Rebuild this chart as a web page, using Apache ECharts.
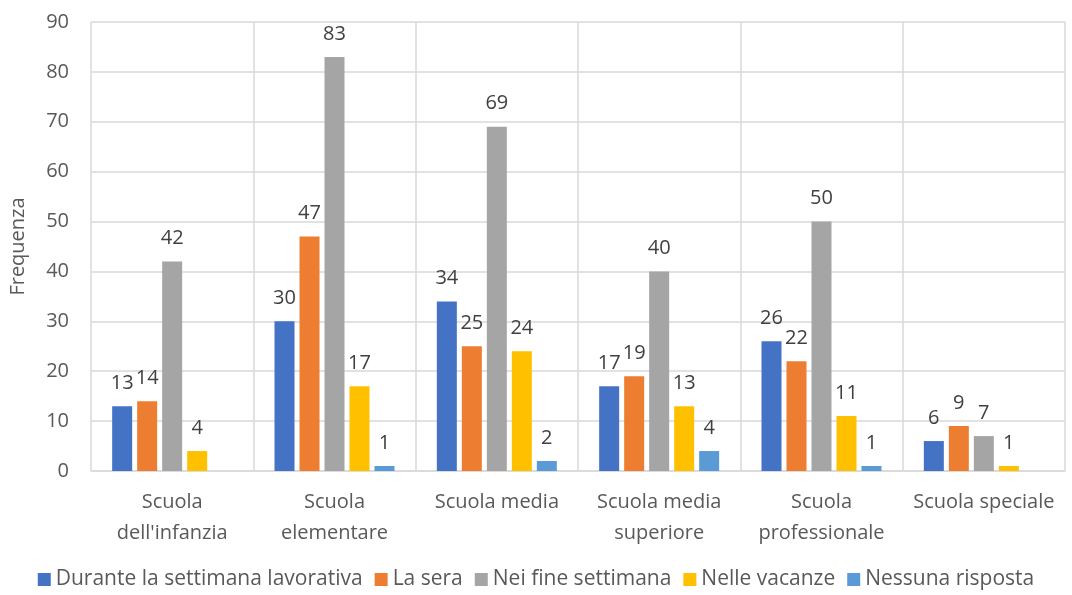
<!DOCTYPE html>
<html>
<head>
<meta charset="utf-8">
<script src="https://cdn.jsdelivr.net/npm/echarts@6/dist/echarts.min.js"></script>
<style>
  html, body { margin: 0; padding: 0; background: #fff; }
  #chart { width: 1072px; height: 595px; }
</style>
</head>
<body>
<div id="chart"></div>
<script>
// categorie (scuole) e serie
const categories = ['Scuola\ndell\'infanzia', 'Scuola\nelementare', 'Scuola media', 'Scuola media\nsuperiore', 'Scuola\nprofessionale', 'Scuola speciale']
const seriesNames = ['Durante la settimana lavorativa', 'La sera', 'Nei fine settimana', 'Nelle vacanze', 'Nessuna risposta']
const settimana = [13, 30, 34, 17, 26, 6]
const sera = [14, 47, 25, 19, 22, 9]
const fineSettimana = [42, 83, 69, 40, 50, 7]
const vacanze = [4, 17, 24, 13, 11, 1]
const nessuna = [0, 1, 2, 4, 1, 0]
const colors = ['#4472C4', '#ED7D31', '#A5A5A5', '#FFC000', '#5B9BD5']

const chart = echarts.init(document.getElementById('chart'))
const font = "'Open Sans', sans-serif"

const series = [settimana, sera, fineSettimana, vacanze, nessuna].map((data, i) => ({
  name: seriesNames[i],
  type: 'bar',
  data: data,
  barWidth: 20,
  barGap: '25%',
  itemStyle: { color: colors[i] },
  label: {
    show: true,
    position: 'top',
    distance: 13,
    color: '#404040',
    fontSize: 20,
    fontFamily: font,
    formatter: (p) => p.value === 0 ? '' : p.value
  }
}))

chart.setOption({
  animation: false,
  textStyle: { fontFamily: font },
  grid: { left: 89, right: 7, top: 22, bottom: 124 },
  legend: {
    bottom: 0,
    left: 'center',
    itemWidth: 13,
    itemHeight: 13,
    itemGap: 12,
    icon: 'rect',
    textStyle: { color: '#595959', fontSize: 21, fontFamily: font, padding: [0, 0, 0, 0] }
  },
  xAxis: {
    type: 'category',
    data: categories,
    axisLine: { lineStyle: { color: '#D9D9D9', width: 1.5 } },
    axisTick: { show: false },
    splitLine: { show: true, lineStyle: { color: '#D9D9D9', width: 1.5 } },
    axisLabel: { color: '#595959', fontSize: 20, fontFamily: font, margin: 16, lineHeight: 31, interval: 0 }
  },
  yAxis: {
    type: 'value',
    min: 0,
    max: 90,
    interval: 10,
    name: 'Frequenza',
    nameLocation: 'middle',
    nameGap: 63,
    nameTextStyle: { color: '#595959', fontSize: 20, fontFamily: font },
    axisLine: { show: false },
    axisTick: { show: false },
    axisLabel: { color: '#595959', fontSize: 20, fontFamily: font, margin: 22 },
    splitLine: { lineStyle: { color: '#D9D9D9', width: 1.5 } }
  },
  series: series
})
</script>
</body>
</html>
